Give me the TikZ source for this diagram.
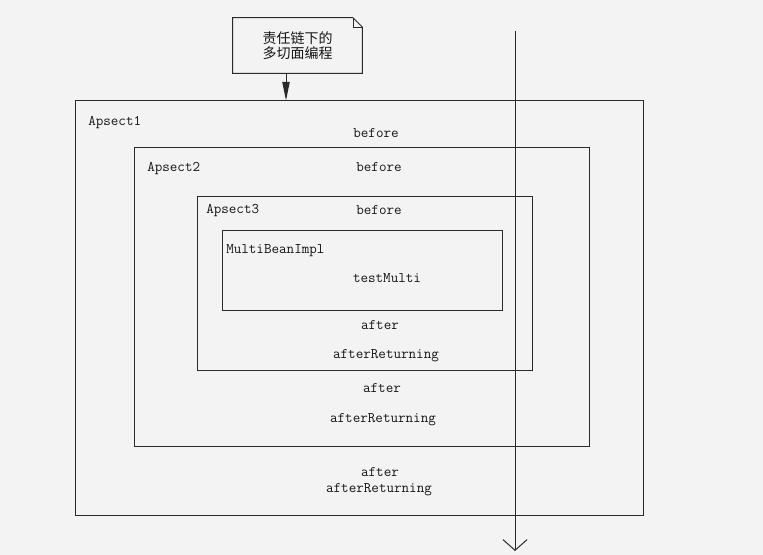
\documentclass[tikz,border=0pt]{standalone}
\usepackage{fontspec}
\newfontfamily\cjk{Noto Sans CJK SC}
\usetikzlibrary{arrows.meta}
\definecolor{paper}{HTML}{F3F3F3}
\definecolor{ink}{HTML}{2A2A2A}
\definecolor{txt}{HTML}{161616}
\begin{document}
\begin{tikzpicture}[x=0.75pt,y=-0.75pt,
  box/.style={draw=ink, line width=0.75pt, inner sep=0pt},
  lbl/.style={font=\ttfamily\fontsize{11}{13}\selectfont, text=txt, inner sep=0pt, text height=7pt, text depth=0pt},
  lbll/.style={lbl, anchor=west},
  conn/.style={draw=ink, line width=0.75pt}]
\useasboundingbox (0,0) rectangle (763,555);
\fill[paper] (0,0) rectangle (763,555);

% nested aspect boxes
\node[box, minimum width=426pt, minimum height=310.5pt] (a1) at (359,308) {};
\node[box, minimum width=341.25pt, minimum height=223.5pt] (a2) at (361.5,297) {};
\node[box, minimum width=251.25pt, minimum height=130.5pt] (a3) at (364.5,284) {};
\node[box, minimum width=210pt, minimum height=60pt] (mb) at (362,271) {};

% labels
\node[lbll] (t1) at (88,121) {Apsect1};
\node[lbl]  (b1) at (376,133) {before};
\node[lbll] (t2) at (147,167) {Apsect2};
\node[lbl]  (b2) at (379,167) {before};
\node[lbll] (t3) at (206,209) {Apsect3};
\node[lbl]  (b3) at (379,210) {before};
\node[lbll] (t4) at (226,249) {MultiBeanImpl};
\node[lbl]  (tm) at (387,278) {testMulti};
\node[lbl]  (f3) at (380,325) {after};
\node[lbl]  (r3) at (386,354) {afterReturning};
\node[lbl]  (f2) at (382,388) {after};
\node[lbl]  (r2) at (383,418) {afterReturning};
\node[lbl]  (f1) at (380,472) {after};
\node[lbl]  (r1) at (379,488) {afterReturning};

% note
\node[inner sep=0pt, minimum width=96.75pt, minimum height=41.25pt] (note) at (297.5,45.5) {};
\draw[ink, line width=0.75pt, line join=miter]
  (note.south west) -- (note.south east) -- ([yshift=-7pt]note.north east)
  -- ([xshift=-7pt]note.north east) -- (note.north west) -- cycle;
\draw[ink, line width=0.6pt]
  ([xshift=-7pt]note.north east) -- ([xshift=-7pt,yshift=-7pt]note.north east)
  -- ([yshift=-7pt]note.north east);
\node[font=\cjk\fontsize{10.5}{11.5}\selectfont, text=txt, align=center, inner sep=0pt] (nt) at (297.5,46) {责任链下的\\多切面编程};

% note arrow
\draw[conn, -{Triangle[length=14pt,width=5.5pt]}] (note.south -| 286,0) -- (a1.north -| 286,0);

% flow line
\coordinate (ftop) at (515,31);
\coordinate (fbot) at (515,551);
\draw[conn, -{Straight Barb[length=8pt,width=18pt,line width=0.75pt]}] (ftop) -- (fbot);
\end{tikzpicture}
\end{document}
